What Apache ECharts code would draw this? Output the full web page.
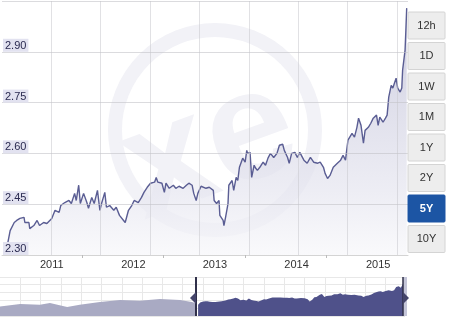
<!DOCTYPE html>
<html>
<head>
<meta charset="utf-8">
<script src="https://cdn.jsdelivr.net/npm/echarts@6/dist/echarts.min.js"></script>
<style>html,body{margin:0;padding:0;background:#fff}#c{width:453px;height:319px}</style>
</head>
<body>
<div id="c"></div>
<script>
// ---- data ----
const years = [2010.44,2010.49,2010.54,2010.57,2010.61,2010.66,2010.67,2010.72,2010.73,2010.78,2010.82,2010.85,2010.90,2010.94,
2011.00,2011.04,2011.09,2011.11,2011.16,2011.21,2011.24,2011.28,2011.30,2011.33,2011.35,2011.39,2011.43,2011.45,2011.49,2011.52,2011.56,2011.59,
2011.61,2011.65,2011.67,2011.71,2011.76,2011.79,2011.83,2011.88,2011.90,2011.94,2011.98,
2012.01,2012.06,2012.10,2012.13,2012.17,2012.21,2012.26,2012.28,2012.30,2012.35,2012.38,2012.40,2012.44,2012.49,2012.52,2012.56,2012.61,2012.65,2012.68,2012.72,2012.74,2012.77,2012.79,2012.83,2012.89,2012.93,2012.98,2012.99,
2013.02,2013.05,2013.06,2013.10,2013.11,2013.13,2013.16,2013.17,2013.21,2013.23,2013.26,2013.28,2013.30,2013.34,2013.37,2013.39,2013.40,2013.43,2013.45,2013.48,2013.50,2013.52,2013.55,2013.59,2013.62,2013.65,2013.68,2013.72,2013.76,2013.79,2013.83,2013.85,2013.89,2013.91,2013.94,2013.98,
2014.01,2014.04,2014.09,2014.13,2014.17,2014.21,2014.26,2014.29,2014.33,2014.35,2014.38,2014.41,2014.45,2014.50,2014.54,2014.57,2014.60,2014.63,2014.68,2014.71,2014.74,2014.76,2014.79,2014.82,2014.84,2014.88,2014.91,2014.94,2014.98,2015.00,2015.02,2015.06,2015.09,2015.11,2015.13,2015.16,2015.18,2015.22,2015.24,2015.27,2015.29,2015.30,2015.33,2015.34,2015.35];
const rates = [2.310,2.372,2.396,2.402,2.408,2.411,2.396,2.396,2.378,2.387,2.402,2.387,2.396,2.393,
2.408,2.432,2.426,2.446,2.455,2.461,2.452,2.482,2.461,2.506,2.452,2.482,2.455,2.438,2.470,2.452,2.491,2.432,
2.452,2.485,2.441,2.446,2.432,2.441,2.417,2.402,2.396,2.432,2.446,
2.461,2.455,2.470,2.485,2.500,2.512,2.515,2.529,2.515,2.512,2.485,2.512,2.497,2.506,2.497,2.503,2.497,2.506,2.512,2.506,2.482,2.461,2.482,2.503,2.497,2.500,2.491,2.461,
2.452,2.461,2.417,2.402,2.387,2.411,2.452,2.506,2.520,2.491,2.529,2.520,2.559,2.586,2.574,2.609,2.600,2.603,2.529,2.565,2.556,2.550,2.559,2.574,2.565,2.586,2.600,2.588,2.600,2.624,2.627,2.609,2.588,2.571,2.600,2.603,
2.588,2.603,2.580,2.571,2.588,2.574,2.571,2.574,2.559,2.541,2.526,2.535,2.559,2.571,2.580,2.594,2.580,2.639,2.659,2.648,2.677,2.704,2.683,2.630,2.668,2.677,2.689,2.704,2.713,2.683,2.707,2.692,2.704,2.713,2.766,2.801,2.793,2.822,2.793,2.781,2.793,2.846,2.905,2.964,3.029];
// navigator: earlier period (outside the selected 5Y window)
const navYears = [2005.72,2006.20,2006.67,2006.91,2007.32,2007.62,2008.10,2008.58,2009.05,2009.53,2010.01,2010.29,2010.39];
const navRates = [2.26,2.33,2.31,2.36,2.25,2.31,2.39,2.44,2.42,2.47,2.44,2.39,2.35];
const yearLabels = [2011,2012,2013,2014,2015];
const minorTicks = [2011.37,2012.37,2013.37,2014.37];
const yTicks = [2.30,2.45,2.60,2.75,2.90,3.05];
const yLabels = [2.30,2.45,2.60,2.75,2.90];
const ranges = ['12h','1D','1W','1M','1Y','2Y','5Y','10Y'];
const selectedRange = '5Y';

const FONT = '"Liberation Sans", Arial, Helvetica, sans-serif';
const n = Math.min(years.length, rates.length);
const mainData = [];
for (let i = 0; i < n; i++) mainData.push([years[i], rates[i]]);
const navEarly = navYears.map((y, i) => [y, navRates[i]]);

const graphics = [
  {type:'circle', z:-5, silent:true, shape:{cx:215, cy:130, r:100}, style:{fill:'none', stroke:'#f2f2f7', lineWidth:14}},
  {type:'text', z:-5, silent:true, x:210, y:150, rotation:0.35,
   style:{text:'xe', font:'bold 155px ' + FONT, fill:'#f2f2f7', align:'center', verticalAlign:'middle'}}
];
ranges.forEach((r, i) => {
  const sel = r === selectedRange;
  const y0 = 12 + i * 30.5;
  graphics.push({type:'rect', z:50, shape:{x:408, y:y0, width:37, height:27, r:1},
    style:{fill: sel ? '#1c55a4' : '#ededed', stroke: sel ? '#1c55a4' : '#d4d4d4', lineWidth:1}});
  graphics.push({type:'text', z:51, x:426.5, y:y0 + 13.5,
    style:{text:r, font:(sel ? 'bold ' : '') + '11px ' + FONT, fill: sel ? '#ffffff' : '#333333', align:'center', verticalAlign:'middle'}});
});
// navigator handles
graphics.push({type:'line', z:60, shape:{x1:196, y1:277, x2:196, y2:316}, style:{stroke:'#30304a', lineWidth:2}});
graphics.push({type:'polygon', z:60, shape:{points:[[196,292],[190,298],[196,304]]}, style:{fill:'#44446a'}});
graphics.push({type:'rect', z:59, shape:{x:403, y:277, width:4, height:39}, style:{fill:'#c4c5d8'}});
graphics.push({type:'line', z:60, shape:{x1:403, y1:277, x2:403, y2:316}, style:{stroke:'#30304a', lineWidth:1.5}});
graphics.push({type:'polygon', z:60, shape:{points:[[403,292],[409,298],[403,304]]}, style:{fill:'#44446a'}});

const chart = echarts.init(document.getElementById('c'), null, {renderer:'canvas'});
chart.setOption({
  animation:false,
  backgroundColor:'#ffffff',
  grid:[
    {left:0, top:1, width:408, height:254},
    {left:0, top:277, width:405, height:39}
  ],
  xAxis:[
    {type:'value', gridIndex:0, min:2010.39, max:2015.366, z:6,
     axisLine:{show:true, lineStyle:{color:'#d4d4d4'}},
     axisTick:{show:true, length:3, customValues:minorTicks, lineStyle:{color:'#bbbbbb'}},
     axisLabel:{customValues:yearLabels, formatter:v => String(Math.round(v)), color:'#333333', fontSize:11, fontFamily:FONT, margin:4},
     splitLine:{show:false}},
    {type:'value', gridIndex:0, min:0, max:8.226, interval:1, z:5,
     axisLine:{show:false}, axisTick:{show:false}, axisLabel:{show:false},
     splitLine:{show:true, showMinLine:false, showMaxLine:false, lineStyle:{color:'rgba(200,200,205,0.55)'}}},
    {type:'value', gridIndex:1, min:2005.72, max:2015.37, show:false},
    {type:'value', gridIndex:1, min:0, max:19.95, interval:1,
     axisLine:{show:false}, axisTick:{show:false}, axisLabel:{show:false},
     splitLine:{show:true, showMinLine:false, showMaxLine:false, lineStyle:{color:'#e8e8e8'}}}
  ],
  yAxis:[
    {type:'value', gridIndex:0, min:2.30, max:3.05, z:6,
     axisLine:{show:false},
     axisTick:{show:false, customValues:yTicks},
     axisLabel:{inside:true, customValues:yLabels, formatter:v => v.toFixed(2), verticalAlign:'bottom',
       color:'#2a2a50', fontSize:11, fontFamily:FONT, margin:1, backgroundColor:'#e2e2f0', padding:[1,2,0,2], lineHeight:12},
     splitLine:{show:true, lineStyle:{color:'rgba(195,195,200,0.6)'}}},
    {type:'value', gridIndex:1, min:2.0, max:3.08, show:false},
    {type:'value', gridIndex:1, min:0, max:4.875, interval:1,
     axisLine:{show:false}, axisTick:{show:false}, axisLabel:{show:false},
     splitLine:{show:true, lineStyle:{color:'#e8e8e8'}}}
  ],
  series:[
    {type:'line', xAxisIndex:0, yAxisIndex:0, data:mainData, symbol:'none', z:3,
     lineStyle:{color:'#5a5d93', width:1.4},
     areaStyle:{origin:'start', color:new echarts.graphic.LinearGradient(0,0,0,1,[
       {offset:0, color:'#b4b4cf'},{offset:0.4, color:'#d2d2e3'},{offset:0.75, color:'#e6e6f0'},{offset:1, color:'#f7f7fa'}])}},
    {type:'line', xAxisIndex:2, yAxisIndex:1, data:navEarly, symbol:'none',
     lineStyle:{width:0}, areaStyle:{origin:'start', color:'#a9aac3', opacity:1}},
    {type:'line', xAxisIndex:2, yAxisIndex:1, data:mainData, symbol:'none',
     lineStyle:{width:0}, areaStyle:{origin:'start', color:'#4f518a', opacity:1}}
  ],
  graphic:graphics
});
</script>
</body>
</html>
